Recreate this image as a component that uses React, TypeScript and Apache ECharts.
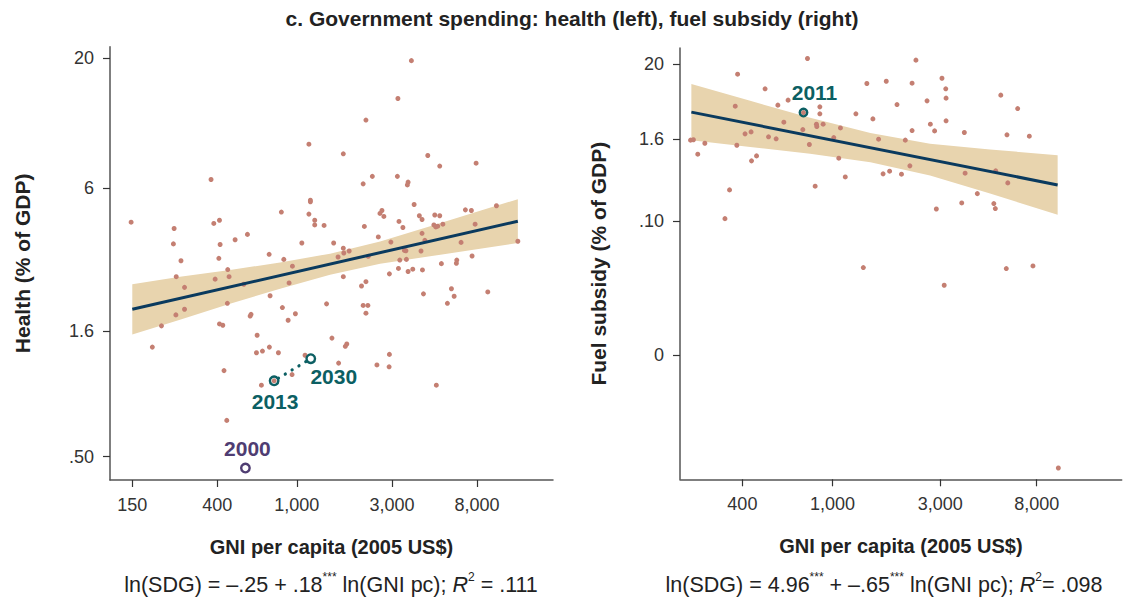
import React, { useEffect, useRef } from "react";
import * as echarts from "echarts";

// ---------- DATA ----------
// Left panel: health spending (% of GDP) vs GNI per capita (2005 US$)
const healthPoints: [number, number][] = [
  [3750, 19.6], [3210, 13.8], [2220, 11.3], [1150, 9.04], [1710, 8.27], [4530, 8.14], [5200, 7.38], [7910, 7.58],
  [372, 6.52], [2150, 6.26], [2390, 6.71], [3190, 6.71], [3610, 6.36], [3580, 6.2], [1170, 5.38], [1170, 5.3],
  [3870, 5.17], [10000, 5.11], [6990, 4.92], [7490, 4.89], [837, 4.82], [1150, 4.73], [2670, 4.89], [2610, 4.76],
  [2730, 4.63], [4110, 4.66], [4910, 4.69], [5200, 4.66], [4240, 4.5], [1230, 4.47], [410, 4.47], [384, 4.34],
  [148, 4.39], [243, 4.14], [1230, 4.28], [1370, 4.26], [3250, 4.42], [2180, 4.22], [3400, 4.18], [4860, 4.28],
  [4970, 4.2], [5080, 4.23], [5390, 4.31], [7820, 4.31], [4240, 3.96], [566, 3.92], [2560, 3.83], [491, 3.73],
  [4380, 3.71], [2960, 3.65], [6650, 3.64], [12800, 3.68], [241, 3.59], [413, 3.57], [1060, 3.62], [1530, 3.62],
  [1710, 3.45], [1720, 3.3], [1830, 3.36], [3460, 3.38], [3520, 3.37], [4190, 3.36], [727, 3.26], [1610, 3.18],
  [2280, 3.2], [7550, 3.21], [407, 3.14], [861, 3.11], [263, 3.07], [3280, 3.09], [3540, 3.11], [6330, 3.09],
  [6300, 3.0], [5300, 2.99], [951, 2.92], [451, 2.83], [3230, 2.86], [3810, 2.84], [3610, 2.78], [4260, 2.82],
  [2910, 2.72], [249, 2.65], [458, 2.65], [1710, 2.65], [390, 2.59], [2220, 2.53], [915, 2.5], [543, 2.47],
  [2110, 2.43], [274, 2.4], [5950, 2.37], [9050, 2.3], [4310, 2.26], [6140, 2.21], [5680, 2.07], [735, 2.22],
  [1410, 2.06], [2150, 2.03], [2270, 2.03], [2220, 1.89], [449, 2.07], [847, 1.99], [984, 1.88], [584, 1.84],
  [590, 1.87], [905, 1.77], [274, 1.96], [248, 1.86], [210, 1.68], [410, 1.71], [426, 1.69], [189, 1.38],
  [633, 1.54], [1500, 1.5], [1780, 1.42], [1750, 1.39], [628, 1.31], [673, 1.33], [729, 1.38], [809, 1.31],
  [2910, 1.29], [2900, 1.15], [2520, 1.17], [1620, 1.19], [1100, 1.28], [432, 1.11], [947, 1.07], [665, 0.97],
  [5000, 0.97], [446, 0.7], [770, 1.01],
];
const healthFitGNI = [150, 12800];
const healthFitPct = [1.96, 4.43];
const healthBandGNI = [150, 260, 463, 825, 1468, 2614, 4654, 8280, 12800];
const healthBandLow = [1.55, 1.78, 2.06, 2.37, 2.7, 2.99, 3.2, 3.43, 3.62];
const healthBandHigh = [2.47, 2.65, 2.82, 3.02, 3.28, 3.67, 4.23, 4.88, 5.43];
const healthPathYears = ["2013", "2030"];
const healthPathGNI = [770, 1175];
const healthPathPct = [1.01, 1.24];
const health2000Year = "2000";
const health2000GNI = 553;
const health2000Pct = 0.45;

// Right panel: fuel subsidy (% of GDP) vs GNI per capita
const fuelPoints: [number, number][] = [
  [776, 23.9], [2340, 22.6], [381, 14.1], [504, 8.6], [1420, 10.3], [1730, 11.1], [2250, 10.4], [3050, 12.3],
  [3170, 8.6], [3180, 6.29], [5550, 6.96], [6590, 4.43], [637, 5.88], [574, 4.97], [372, 4.8], [880, 4.69],
  [1930, 5.07], [2620, 5.74], [880, 3.71], [1270, 3.71], [1510, 3.13], [610, 2.8], [850, 2.62], [853, 2.42],
  [910, 2.62], [1085, 2.31], [740, 2.18], [2710, 2.62], [3180, 2.93], [2250, 2.11], [2830, 2.09], [3830, 1.98],
  [411, 1.89], [437, 2.02], [522, 1.71], [564, 1.6], [1014, 1.67], [1600, 1.58], [2100, 1.53], [236, 1.53],
  [243, 1.55], [273, 1.38], [378, 1.29], [791, 1.32], [5910, 1.83], [7420, 1.75], [254, 0.954], [462, 0.901],
  [439, 0.762], [1067, 0.834], [2200, 0.644], [1675, 0.492], [1790, 0.538], [2020, 0.487], [1140, 0.444],
  [3860, 0.503], [5270, 0.544], [5960, 0.363], [839, 0.325], [351, 0.287], [4370, 0.253], [3730, 0.185],
  [5170, 0.181], [5250, 0.153], [2880, 0.151], [335, 0.109], [1370, 0.021], [5870, 0.0203], [7700, 0.0222],
  [3120, 0.0116], [9970, 0.0000247], [745, 3.87],
];
const fuelFitGNI = [238, 9900];
const fuelFitPct = [3.93, 0.339];
const fuelBandGNI = [238, 433, 797, 1472, 2702, 4975, 9900];
const fuelBandLow = [1.53, 1.22, 0.967, 0.729, 0.464, 0.254, 0.1245];
const fuelBandHigh = [10.1, 5.74, 3.25, 1.94, 1.36, 1.12, 0.92];
const fuel2011Year = "2011";
const fuel2011GNI = 745;
const fuel2011Pct = 3.87;

// Axes (log scales)
const healthXTicks = [150, 400, 1000, 3000, 8000];
const healthXLabels = ["150", "400", "1,000", "3,000", "8,000"];
const healthYTicks = [20, 6, 1.6, 0.5];
const healthYLabels = ["20", "6", "1.6", ".50"];
const healthXRange = [116, 19200];
const healthYRange = [0.403, 22.3];

const fuelXTicks = [400, 1000, 3000, 8000];
const fuelXLabels = ["400", "1,000", "3,000", "8,000"];
const fuelYTicks = [20, 1.6, 0.1, 0.00109];
const fuelYLabels = ["20", "1.6", ".10", "0"];
const fuelXRange = [212, 19000];
const fuelYRange = [0.0000169, 34];

const chartTitle = "c. Government spending: health (left), fuel subsidy (right)";
const xTitle = "GNI per capita (2005 US$)";
const healthYTitle = "Health (% of GDP)";
const fuelYTitle = "Fuel subsidy (% of GDP)";
const healthEq = "{n|ln(SDG) = –.25 + .18}{s|***}{n| ln(GNI pc); }{i|R}{s|2}{n| = .111}";
const fuelEq = "{n|ln(SDG) = 4.96}{s|***}{n| + –.65}{s|***}{n| ln(GNI pc); }{i|R}{s|2}{n|= .098}";

// ---------- STYLE ----------
const FONT = '"Liberation Sans", Arial, Helvetica, sans-serif';
const DOT = "#c47f72";
const BAND = "#e8d4ae";
const FIT = "#0a3a5e";
const TEAL = "#0c5f63";
const PURPLE = "#4f3d72";
const L = Math.log;

function labelFor(ticks: number[], labels: string[]) {
  return (v: number) => {
    for (let i = 0; i < ticks.length; i++) {
      if (Math.abs(L(ticks[i]) - v) < 1e-3) return labels[i];
    }
    return "";
  };
}

function logAxis(ticks: number[], labels: string[], range: number[], gridIndex: number, extra: any) {
  const cv = ticks.map(L);
  return {
    type: "value",
    gridIndex,
    min: L(range[0]),
    max: L(range[1]),
    axisLine: { show: true, onZero: false, lineStyle: { color: "#555", width: 1.5 } },
    axisTick: { show: true, length: 7, customValues: cv, lineStyle: { color: "#333", width: 1.2 } },
    axisLabel: {
      customValues: cv,
      formatter: labelFor(ticks, labels),
      fontSize: 18,
      color: "#333",
      fontFamily: FONT,
      margin: 16,
    },
    splitLine: { show: false },
    nameLocation: "middle",
    ...extra,
  };
}

function bandSeries(gni: number[], low: number[], high: number[], idx: number) {
  return {
    type: "custom",
    xAxisIndex: idx,
    yAxisIndex: idx,
    silent: true,
    z: 1,
    data: gni.map((g, i) => [L(g), L(low[i])]),
    renderItem: (params: any, api: any) => {
      if (params.dataIndex !== 0) return null;
      const pts: number[][] = [];
      for (let i = 0; i < gni.length; i++) pts.push(api.coord([L(gni[i]), L(high[i])]));
      for (let i = gni.length - 1; i >= 0; i--) pts.push(api.coord([L(gni[i]), L(low[i])]));
      return { type: "polygon", shape: { points: pts }, style: { fill: BAND } };
    },
  };
}

function fitSeries(gni: number[], pct: number[], idx: number) {
  return {
    type: "line",
    xAxisIndex: idx,
    yAxisIndex: idx,
    silent: true,
    z: 4,
    symbol: "none",
    data: gni.map((g, i) => [L(g), L(pct[i])]),
    lineStyle: { color: FIT, width: 3 },
  };
}

const xNameStyle = { fontSize: 20, fontWeight: "bold", color: "#222", fontFamily: FONT };
const yNameStyle = { fontSize: 21, fontWeight: "bold", color: "#222", fontFamily: FONT };
const yearLabel = {
  show: true,
  position: "inside",
  fontSize: 21,
  fontWeight: "bold",
  fontFamily: FONT,
  textBorderWidth: 0,
  textBorderColor: "transparent",
  textShadowBlur: 0,
};

const option: any = {
  animation: false,
  backgroundColor: "#fff",
  grid: [
    { left: 110, top: 46.7, width: 443, height: 433.3, containLabel: false, outerBoundsMode: "none" },
    { left: 680, top: 48, width: 441.7, height: 431.3, containLabel: false, outerBoundsMode: "none" },
  ],
  xAxis: [
    logAxis(healthXTicks, healthXLabels, healthXRange, 0, { name: xTitle, nameGap: 57, nameTextStyle: xNameStyle }),
    logAxis(fuelXTicks, fuelXLabels, fuelXRange, 1, { name: xTitle, nameGap: 57, nameTextStyle: xNameStyle }),
  ],
  yAxis: [
    logAxis(healthYTicks, healthYLabels, healthYRange, 0, { name: healthYTitle, nameGap: 77, nameTextStyle: yNameStyle }),
    logAxis(fuelYTicks, fuelYLabels, fuelYRange, 1, { name: fuelYTitle, nameGap: 71, nameTextStyle: yNameStyle }),
  ],
  series: [
    bandSeries(healthBandGNI, healthBandLow, healthBandHigh, 0),
    bandSeries(fuelBandGNI, fuelBandLow, fuelBandHigh, 1),
    {
      type: "scatter",
      xAxisIndex: 0,
      yAxisIndex: 0,
      z: 3,
      symbolSize: 5,
      itemStyle: { color: DOT, opacity: 1 },
      data: healthPoints.map(([g, p]) => [L(g), L(p)]),
    },
    {
      type: "scatter",
      xAxisIndex: 1,
      yAxisIndex: 1,
      z: 3,
      symbolSize: 5,
      itemStyle: { color: DOT, opacity: 1 },
      data: fuelPoints.map(([g, p]) => [L(g), L(p)]),
    },
    fitSeries(healthFitGNI, healthFitPct, 0),
    fitSeries(fuelFitGNI, fuelFitPct, 1),
    {
      type: "line",
      xAxisIndex: 0,
      yAxisIndex: 0,
      z: 5,
      symbol: "none",
      silent: true,
      data: healthPathGNI.map((g, i) => [L(g), L(healthPathPct[i])]),
      lineStyle: { color: TEAL, width: 3.2, type: [0.1, 7.9], cap: "round", dashOffset: 3 },
    },
    {
      type: "scatter",
      xAxisIndex: 0,
      yAxisIndex: 0,
      z: 6,
      symbolSize: 8.5,
      itemStyle: { opacity: 1 },
      data: [
        {
          value: [L(healthPathGNI[0]), L(healthPathPct[0])],
          itemStyle: { color: "rgba(0,0,0,0)", borderColor: TEAL, borderWidth: 2.4, opacity: 1 },
          label: { ...yearLabel, formatter: healthPathYears[0], offset: [1, 21], color: TEAL },
        },
        {
          value: [L(healthPathGNI[1]), L(healthPathPct[1])],
          itemStyle: { color: "#fff", borderColor: TEAL, borderWidth: 2.4, opacity: 1 },
          label: { ...yearLabel, formatter: healthPathYears[1], offset: [23, 18], color: TEAL },
        },
        {
          value: [L(health2000GNI), L(health2000Pct)],
          itemStyle: { color: "#fff", borderColor: PURPLE, borderWidth: 2.4, opacity: 1 },
          label: { ...yearLabel, formatter: health2000Year, offset: [2, -20], color: PURPLE },
        },
      ],
    },
    {
      type: "scatter",
      xAxisIndex: 1,
      yAxisIndex: 1,
      z: 6,
      symbolSize: 7.5,
      itemStyle: { opacity: 1 },
      data: [
        {
          value: [L(fuel2011GNI), L(fuel2011Pct)],
          itemStyle: { color: "rgba(0,0,0,0)", borderColor: TEAL, borderWidth: 2.4, opacity: 1 },
          label: { ...yearLabel, formatter: fuel2011Year, offset: [11, -20], color: TEAL },
        },
      ],
    },
  ],
  graphic: [
    {
      type: "text",
      x: 572,
      y: 18,
      style: {
        text: chartTitle,
        font: `bold 21px ${FONT}`,
        fill: "#222",
        align: "center",
        verticalAlign: "middle",
        textAlign: "center",
        textVerticalAlign: "middle",
      },
    },
    ...[
      { t: healthEq, x: 331 },
      { t: fuelEq, x: 884 },
    ].map((e) => ({
      type: "text",
      x: e.x,
      y: 585,
      style: {
        text: e.t,
        font: `21.5px ${FONT}`,
        fill: "#222",
        align: "center",
        verticalAlign: "middle",
        textAlign: "center",
        textVerticalAlign: "middle",
        rich: {
          n: { fontSize: 21.5, fontFamily: FONT, fill: "#222", color: "#222", lineHeight: 28 },
          i: { fontSize: 21.5, fontFamily: FONT, fontStyle: "italic", fill: "#222", color: "#222", lineHeight: 28 },
          s: { fontSize: 12, fontFamily: FONT, fill: "#222", color: "#222", verticalAlign: "top", lineHeight: 14 },
        },
      },
    })),
  ],
};

export default function App() {
  const ref = useRef<HTMLDivElement>(null);
  useEffect(() => {
    if (!ref.current) return;
    const chart = echarts.init(ref.current, null, { renderer: "svg" });
    chart.setOption(option);
    return () => chart.dispose();
  }, []);
  return <div ref={ref} style={{ position: "fixed", left: 0, top: 0, width: 1136, height: 604, background: "#fff" }} />;
}
